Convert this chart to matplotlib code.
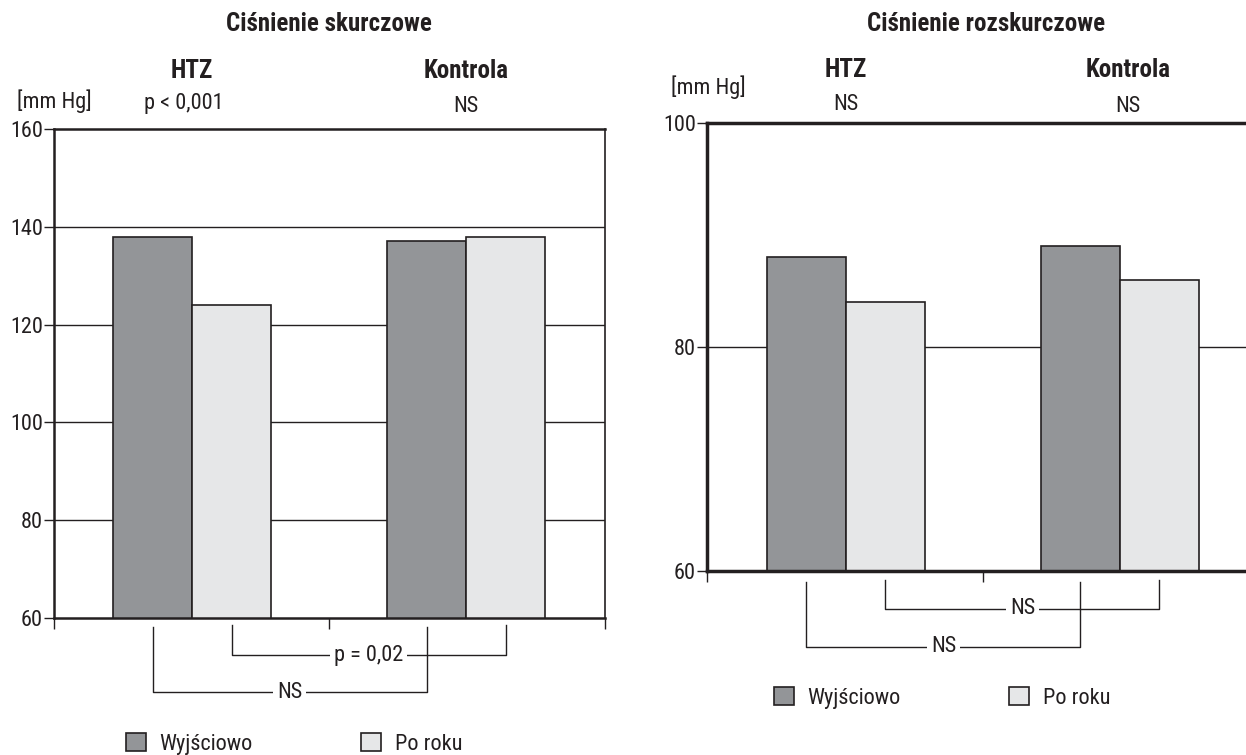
import matplotlib
matplotlib.use("Agg")
import matplotlib.pyplot as plt
import matplotlib.transforms as mtransforms
from matplotlib.patches import Patch
from matplotlib import font_manager

# pick a condensed sans family that has static regular and bold faces
_cands = ['Roboto Condensed', 'Archivo Narrow', 'PT Sans Narrow', 'Nimbus Sans Narrow',
          'Liberation Sans Narrow', 'Barlow Semi Condensed', 'Barlow Condensed',
          'Liberation Sans']
_chosen = 'DejaVu Sans'
for c in _cands:
    ents = [f for f in font_manager.fontManager.ttflist
            if f.name == c and '[' not in f.fname and f.style == 'normal']
    ws = {f.weight for f in ents}
    if 400 in ws and 700 in ws:
        _chosen = c
        break
plt.rcParams['font.family'] = [_chosen, 'DejaVu Sans']

# ---- data ----
groups = ["HTZ", "Kontrola"]
series_names = ["Wyjściowo", "Po roku"]
sys_baseline = [138, 137]
sys_after = [124, 138]
dia_baseline = [88, 89]
dia_after = [84, 86]
sys_stats = ["p < 0,001", "NS"]
dia_stats = ["NS", "NS"]
sys_ticks = [60, 80, 100, 120, 140, 160]
dia_ticks = [60, 80, 100]
sys_grid = [80, 100, 120, 140]
dia_grid = [80]
sys_between = ["NS", "p = 0,02"]
dia_between = ["NS", "NS"]

DARK = "#939598"
LIGHT = "#e6e7e8"
INK = "#231f20"
W = 0.288
FS = 16
FSB = 18

fig = plt.figure(figsize=(12.46, 7.55), dpi=100)
axL = fig.add_axes([54/1246, 137/755, 551/1246, 489/755])
axR = fig.add_axes([707/1246, 184/755, 539/1246, 448/755])


def draw(ax, base, after, ticks, grid, xlim, lw_spine, right_spine):
    x = list(range(len(groups)))
    for g in grid:
        ax.axhline(g, color=INK, lw=1.0, zorder=1)
    ax.bar([i - W/2 for i in x], base, W, color=DARK, edgecolor=INK, lw=1.2, zorder=2)
    ax.bar([i + W/2 for i in x], after, W, color=LIGHT, edgecolor=INK, lw=1.2, zorder=2)
    ax.set_ylim(ticks[0], ticks[-1])
    ax.set_xlim(*xlim)
    ax.set_yticks(ticks)
    ax.set_yticklabels([str(t) for t in ticks], fontsize=FS, color=INK)
    ax.set_xticks([xlim[0], 0.5, xlim[1]] if right_spine else [xlim[0], 0.5])
    ax.set_xticklabels([])
    ax.tick_params(axis='y', length=7, width=1, color=INK, pad=1)
    ax.tick_params(axis='x', length=8, width=1, color=INK)
    for s in ['left', 'top', 'bottom']:
        ax.spines[s].set_linewidth(lw_spine)
        ax.spines[s].set_color(INK)
    ax.spines['right'].set_visible(right_spine)
    ax.spines['right'].set_linewidth(1.2)
    ax.spines['right'].set_color(INK)


draw(axL, sys_baseline, sys_after, sys_ticks, sys_grid, (-0.504, 1.507), 1.8, True)
draw(axR, dia_baseline, dia_after, dia_ticks, dia_grid, (-0.507, 1.46), 2.5, False)


def bracket(ax, x1, x2, ytop, ybot, label):
    tr = mtransforms.blended_transform_factory(ax.transData, ax.transAxes)
    ax.plot([x1, x1, x2, x2], [ytop, ybot, ybot, ytop], color=INK, lw=1.0,
            transform=tr, clip_on=False)
    ax.text((x1 + x2)/2, ybot, label, transform=tr, ha='center', va='center',
            fontsize=FS, color=INK,
            bbox=dict(facecolor='white', edgecolor='none', pad=2.5))


# systolic brackets (y in axes fraction)
bracket(axL, -W/2, 1 - W/2, -9/489, -74/489, sys_between[0])
bracket(axL, W/2, 1 + W/2, -7/489, -37/489, sys_between[1])
# diastolic
bracket(axR, -W/2, 1 - W/2, -11/448, -76/448, dia_between[0])
bracket(axR, W/2, 1 + W/2, -9/448, -38/448, dia_between[1])


# ---- headers ----
def fx(ax, xd):
    return fig.transFigure.inverted().transform(ax.transData.transform((xd, 0)))[0]


def fy(py):
    return 1 - py/755


fig.text(329/1246, fy(24), "Ciśnienie skurczowe", ha='center', va='center',
         fontsize=FSB, fontweight='bold', color=INK)
fig.text(986/1246, fy(24), "Ciśnienie rozskurczowe", ha='center', va='center',
         fontsize=FSB, fontweight='bold', color=INK)

for i, g in enumerate(groups):
    fig.text(fx(axL, i), fy(71), g, ha='center', va='center', fontsize=FSB,
             fontweight='bold', color=INK)
    fig.text(fx(axR, i + 0.03*i), fy(70), g, ha='center', va='center', fontsize=FSB,
             fontweight='bold', color=INK)
fig.text(184/1246, fy(104), sys_stats[0], ha='center', va='center', fontsize=FS, color=INK)
fig.text(fx(axL, 1), fy(106), sys_stats[1], ha='center', va='center', fontsize=FS, color=INK)
fig.text(fx(axR, 0), fy(105), dia_stats[0], ha='center', va='center', fontsize=FS, color=INK)
fig.text(1128/1246, fy(106), dia_stats[1], ha='center', va='center', fontsize=FS, color=INK)
fig.text(54/1246, fy(101), "[mm Hg]", ha='center', va='center', fontsize=FS, color=INK)
fig.text(708/1246, fy(87), "[mm Hg]", ha='center', va='center', fontsize=FS, color=INK)

# ---- legends ----
handles = [Patch(facecolor=DARK, edgecolor=INK, lw=1.2),
           Patch(facecolor=LIGHT, edgecolor=INK, lw=1.2)]
for anchor in [(126/1246, fy(744)), (774/1246, fy(698))]:
    fig.legend(handles, series_names, loc='center left', bbox_to_anchor=anchor,
               bbox_transform=fig.transFigure, ncol=2, frameon=False,
               fontsize=FS, handlelength=0.9, handleheight=0.85,
               handletextpad=0.6, columnspacing=4.9, borderpad=0,
               borderaxespad=0, labelcolor=INK)

fig.savefig("out.png", dpi=100)
